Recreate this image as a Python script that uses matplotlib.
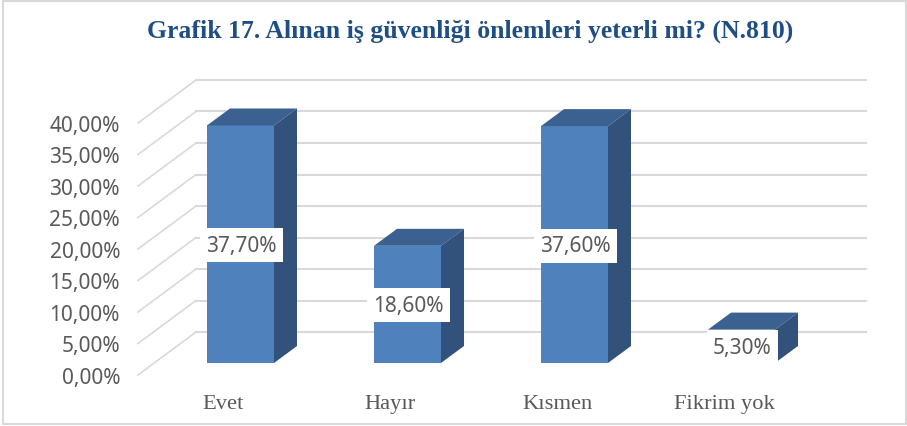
import matplotlib
matplotlib.use("Agg")
import matplotlib.pyplot as plt
from matplotlib.patches import Polygon, Rectangle

categories = ["Evet", "Hayır", "Kısmen", "Fikrim yok"]
values = [37.70, 18.60, 37.60, 5.30]
value_labels = ["37,70%", "18,60%", "37,60%", "5,30%"]
ticks = [0, 5, 10, 15, 20, 25, 30, 35, 40]
tick_labels = ["0,00%", "5,00%", "10,00%", "15,00%", "20,00%", "25,00%", "30,00%", "35,00%", "40,00%"]
title = "Grafik 17. Alınan iş güvenliği önlemleri yeterli mi? (N.810)"

W, H = 907, 427
px_x = 167.0      # pixels per category
px_y = 6.3        # pixels per percent
x0 = 240.5        # pixel of first bar centre
y0 = 364.0        # pixel of the bar base

bar_w = 67 / px_x
dep_x = 23 / px_x
dep_y = 17 / px_y

front_x = (138 - x0) / px_x
back_x = (196 - x0) / px_x
right_x = (866 - x0) / px_x
front_off = (y0 - 376) / px_y
back_off = (y0 - 333) / px_y

text_col = "#595959"
font = "Liberation Serif"

fig = plt.figure(figsize=(W / 100, H / 100), dpi=100)
ax = fig.add_axes([0, 0, 1, 1])
ax.set_xlim(-x0 / px_x, (W - x0) / px_x)
ax.set_ylim((y0 - H) / px_y, y0 / px_y)
ax.axis("off")

# outer frame
ax.add_patch(Rectangle((3 / W, 2 / H), 903 / W, 423 / H, transform=ax.transAxes,
                       fill=False, edgecolor="#d9d9d9", linewidth=1.5))

# grid: back wall and side wall
for t in ticks:
    ax.plot([back_x, right_x], [t + back_off, t + back_off], color="#d9d9d9", lw=1.5, zorder=1)
    ax.plot([front_x, back_x], [t + front_off, t + back_off], color="#d9d9d9", lw=1.2, zorder=1)

# bars
xs = list(range(len(categories)))
ax.bar(xs, values, width=bar_w, color="#4f81bd", zorder=3)
for x, v in zip(xs, values):
    l = x - bar_w / 2
    r = x + bar_w / 2
    ax.add_patch(Polygon([(l, v), (r, v), (r + dep_x, v + dep_y), (l + dep_x, v + dep_y)],
                         facecolor="#3b6190", edgecolor="none", zorder=3))
    ax.add_patch(Polygon([(r, 0), (r + dep_x, dep_y), (r + dep_x, v + dep_y), (r, v)],
                         facecolor="#32527b", edgecolor="none", zorder=3))

# data labels
for x, v, lab in zip(xs, values, value_labels):
    ax.text(x + 1 / px_x, v / 2 + 1.5 / px_y, lab, ha="center", va="center_baseline", fontsize=15,
            color=text_col, family="Noto Sans", zorder=5,
            bbox=dict(facecolor="white", edgecolor="none", pad=4.7))

for t, lab in zip(ticks, tick_labels):
    ax.text((120 - x0) / px_x, t + front_off, lab, ha="right", va="center_baseline", fontsize=15,
            color=text_col, family="Noto Sans")

for x, lab in zip(xs, categories):
    ax.text(x - 17 / px_x, (y0 - 405) / px_y, lab, ha="center", va="center", fontsize=16.2,
            color=text_col, family=font)

ax.text((470 - x0) / px_x, (y0 - 31) / px_y, title, ha="center", va="center", fontsize=18.5,
        color="#1f4e84", fontweight="bold", family=font)

plt.savefig("out.png", dpi=100)
